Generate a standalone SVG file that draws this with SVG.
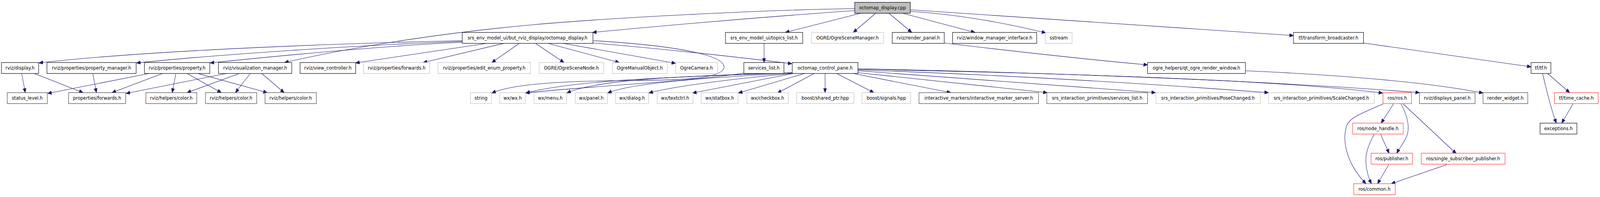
<svg xmlns="http://www.w3.org/2000/svg" width="4431" height="504" viewBox="0 0 4431 504" preserveAspectRatio="none">
<style>
svg:root{width:100vw;height:504px}
text{font-family:"DejaVu Sans","Liberation Sans",sans-serif;font-size:12.4px;text-anchor:middle;fill:#000}
rect{fill:#fff;stroke-width:1.2}
.k rect{stroke:#000}
.d rect{stroke:#404040}
.g rect{stroke:#bfbfbf}
.r rect{stroke:#ff3030}
#root rect{fill:#bfbfbf}
#edges path{fill:none;stroke:#191970;stroke-width:1.1;marker-end:url(#ah)}
</style>
<defs>
<marker id="ah" markerUnits="userSpaceOnUse" markerWidth="12" markerHeight="10" refX="11" refY="4.5" orient="auto">
<path d="M0,0 L11,4.5 L0,9 z" fill="#191970" stroke="#191970"/>
</marker>
</defs>
<rect x="0" y="0" width="4431" height="504" style="fill:#fff;stroke:none"/>
<g id="edges">
<path d="M2367,27 C2200,38 1900,60 1641,83"/>
<path d="M2367,22 C2100,26 1700,45 1480,63 S1000,115 788,160"/>
<path d="M2383,34 L2175,83"/>
<path d="M2425,34 L2363,83"/>
<path d="M2462,34 L2525,83"/>
<path d="M2500,34 L2700,83"/>
<path d="M2521,29 Q2700,40 2896,84"/>
<path d="M2521,25 L3582,91"/>
<path d="M1280,104 C900,112 400,130 108,161"/>
<path d="M1280,106 C1000,115 600,140 378,161"/>
<path d="M1280,108 C1050,118 750,145 582,161"/>
<path d="M1348,111 L985,161"/>
<path d="M1395,111 L1172,160"/>
<path d="M1438,111 L1362,160"/>
<path d="M1483,111 L1562,160"/>
<path d="M1518,111 L1715,160"/>
<path d="M1560,111 L1871,162"/>
<path d="M1642,110 Q1900,130 2193,163"/>
<path d="M1642,104 C1900,118 2010,145 2005,173 C2000,200 1900,205 1750,206 C1550,207 1420,215 1362,238"/>
<path d="M2116,111 L2116,160"/>
<path d="M2060,187 C1900,210 1600,222 1456,238"/>
<path d="M2194,186 C1900,196 1600,203 1456,238"/>
<path d="M2194,186 C1900,194 1650,203 1570,238"/>
<path d="M2194,187 C1950,199 1750,212 1683,238"/>
<path d="M2194,188 C2000,204 1850,224 1797,238"/>
<path d="M2197,188 L1918,238"/>
<path d="M2228,188 L2045,238"/>
<path d="M2255,188 L2153,238"/>
<path d="M2285,188 L2285,237"/>
<path d="M2317,188 L2420,237"/>
<path d="M2363,188 L2633,237"/>
<path d="M2376,186 L2900,237"/>
<path d="M2376,181 L3200,237"/>
<path d="M2376,179 Q2900,195 3513,237"/>
<path d="M2376,177 C2800,185 3500,200 3829,238"/>
<path d="M2376,176 C2800,183 3500,205 3931,237"/>
<path d="M2615,110 Q2950,147 3178,166"/>
<path d="M3449,181 Q3900,200 4107,238"/>
<path d="M3776,110 L4240,171"/>
<path d="M4272,188 C4285,240 4300,290 4310,315"/>
<path d="M4286,188 L4347,237"/>
<path d="M4356,266 L4325,315"/>
<path d="M60,188 L70,237"/>
<path d="M95,188 L230,237"/>
<path d="M257,188 L267,237"/>
<path d="M413,188 L132,239"/>
<path d="M450,188 L310,237"/>
<path d="M627,188 L349,239"/>
<path d="M487,188 L477,237"/>
<path d="M518,188 L613,237"/>
<path d="M548,188 L740,237"/>
<path d="M663,188 L518,237"/>
<path d="M693,188 L652,237"/>
<path d="M725,188 L787,237"/>
<path d="M3830,266 C3770,290 3740,300 3730,320 C3715,360 3730,420 3783,470"/>
<path d="M3859,266 L3825,315"/>
<path d="M3880,266 C3900,300 3905,330 3895,350 C3885,370 3875,380 3868,392"/>
<path d="M3886,266 L4033,393"/>
<path d="M3806,343 C3790,370 3780,395 3783,420 C3785,440 3790,455 3798,470"/>
<path d="M3823,343 L3847,392"/>
<path d="M3846,421 L3815,470"/>
<path d="M4007,421 L3853,470"/>
</g>
<g id="root" class="k"><rect x="2367" y="6" width="154" height="28"/><text x="2444" y="24">octomap_display.cpp</text></g>
<g id="n_octomap_display_h" class="k"><rect x="1280" y="83" width="362" height="28"/><text x="1461" y="101">srs_env_model_ui/but_rviz_display/octomap_display.h</text></g>
<g id="n_topics_list" class="k"><rect x="2009" y="83" width="214" height="28"/><text x="2116" y="101">srs_env_model_ui/topics_list.h</text></g>
<g id="n_ogre_scene_manager" class="g"><rect x="2247" y="83" width="200" height="28"/><text x="2347" y="101">OGRE/OgreSceneManager.h</text></g>
<g id="n_render_panel" class="k"><rect x="2471" y="83" width="144" height="28"/><text x="2543" y="101">rviz/render_panel.h</text></g>
<g id="n_wmi" class="k"><rect x="2638" y="83" width="233" height="28"/><text x="2754.5" y="101">rviz/window_manager_interface.h</text></g>
<g id="n_sstream" class="g"><rect x="2895" y="83" width="74" height="28"/><text x="2932" y="101">sstream</text></g>
<g id="n_tfb" class="k"><rect x="3582" y="83" width="194" height="28"/><text x="3679" y="101">tf/transform_broadcaster.h</text></g>
<g id="n_display" class="k"><rect x="4" y="160" width="103" height="28"/><text x="55.5" y="178">rviz/display.h</text></g>
<g id="n_propmgr" class="k"><rect x="130" y="160" width="247" height="28"/><text x="253.5" y="178">rviz/properties/property_manager.h</text></g>
<g id="n_property" class="k"><rect x="400" y="160" width="181" height="28"/><text x="490.5" y="178">rviz/properties/property.h</text></g>
<g id="n_vizmgr" class="k"><rect x="605" y="160" width="203" height="28"/><text x="706.5" y="178">rviz/visualization_manager.h</text></g>
<g id="n_viewctl" class="k"><rect x="831" y="160" width="154" height="28"/><text x="908" y="178">rviz/view_controller.h</text></g>
<g id="n_fwd_gray" class="g"><rect x="1007" y="160" width="183" height="28"/><text x="1098.5" y="178">rviz/properties/forwards.h</text></g>
<g id="n_editenum" class="g"><rect x="1213" y="160" width="256" height="28"/><text x="1341" y="178">rviz/properties/edit_enum_property.h</text></g>
<g id="n_scenenode" class="g"><rect x="1493" y="160" width="179" height="28"/><text x="1582.5" y="178">OGRE/OgreSceneNode.h</text></g>
<g id="n_manualobj" class="g"><rect x="1696" y="160" width="152" height="28"/><text x="1772" y="178">OgreManualObject.h</text></g>
<g id="n_camera" class="g"><rect x="1871" y="160" width="116" height="28"/><text x="1929" y="178">OgreCamera.h</text></g>
<g id="n_services" class="k"><rect x="2060" y="160" width="111" height="28"/><text x="2115.5" y="178">services_list.h</text></g>
<g id="n_pane" class="k"><rect x="2194" y="160" width="182" height="28"/><text x="2285" y="178">octomap_control_pane.h</text></g>
<g id="n_qtogre" class="k"><rect x="3178" y="160" width="271" height="28"/><text x="3313.5" y="178">ogre_helpers/qt_ogre_render_window.h</text></g>
<g id="n_tf" class="k"><rect x="4240" y="160" width="55" height="28"/><text x="4267.5" y="178">tf/tf.h</text></g>
<g id="n_status" class="d"><rect x="20" y="237" width="111" height="28"/><text x="75.5" y="255">status_level.h</text></g>
<g id="n_pfwd" class="d"><rect x="190" y="237" width="158" height="28"/><text x="269" y="255">properties/forwards.h</text></g>
<g id="n_color1" class="d"><rect x="404" y="237" width="141" height="28"/><text x="474.5" y="255">rviz/helpers/color.h</text></g>
<g id="n_color2" class="d"><rect x="569" y="237" width="142" height="28"/><text x="640" y="255">rviz/helpers/color.h</text></g>
<g id="n_color3" class="d"><rect x="734" y="237" width="142" height="28"/><text x="805" y="255">rviz/helpers/color.h</text></g>
<g id="n_string" class="g"><rect x="1303" y="237" width="58" height="28"/><text x="1332" y="255">string</text></g>
<g id="n_wxwx" class="g"><rect x="1384" y="237" width="71" height="28"/><text x="1419.5" y="255">wx/wx.h</text></g>
<g id="n_wxmenu" class="g"><rect x="1479" y="237" width="90" height="28"/><text x="1524" y="255">wx/menu.h</text></g>
<g id="n_wxpanel" class="g"><rect x="1593" y="237" width="89" height="28"/><text x="1637.5" y="255">wx/panel.h</text></g>
<g id="n_wxdialog" class="g"><rect x="1705" y="237" width="91" height="28"/><text x="1750.5" y="255">wx/dialog.h</text></g>
<g id="n_wxtextctrl" class="g"><rect x="1820" y="237" width="99" height="28"/><text x="1869.5" y="255">wx/textctrl.h</text></g>
<g id="n_wxstatbox" class="g"><rect x="1942" y="237" width="102" height="28"/><text x="1993" y="255">wx/statbox.h</text></g>
<g id="n_wxcheckbox" class="g"><rect x="2068" y="237" width="115" height="28"/><text x="2125.5" y="255">wx/checkbox.h</text></g>
<g id="n_sharedptr" class="g"><rect x="2206" y="237" width="159" height="28"/><text x="2285.5" y="255">boost/shared_ptr.hpp</text></g>
<g id="n_signals" class="g"><rect x="2387" y="237" width="135" height="28"/><text x="2454.5" y="255">boost/signals.hpp</text></g>
<g id="n_ims" class="d"><rect x="2545" y="237" width="331" height="28"/><text x="2710.5" y="255">interactive_markers/interactive_marker_server.h</text></g>
<g id="n_srssl" class="d"><rect x="2899" y="237" width="279" height="28"/><text x="3038.5" y="255">srs_interaction_primitives/services_list.h</text></g>
<g id="n_pose" class="g"><rect x="3201" y="237" width="289" height="28"/><text x="3345.5" y="255">srs_interaction_primitives/PoseChanged.h</text></g>
<g id="n_scale" class="g"><rect x="3513" y="237" width="293" height="28"/><text x="3659.5" y="255">srs_interaction_primitives/ScaleChanged.h</text></g>
<g id="n_ros" class="r"><rect x="3830" y="237" width="79" height="28"/><text x="3869.5" y="255">ros/ros.h</text></g>
<g id="n_dpanel" class="d"><rect x="3931" y="237" width="154" height="28"/><text x="4008" y="255">rviz/displays_panel.h</text></g>
<g id="n_rwidget" class="d"><rect x="4107" y="237" width="124" height="28"/><text x="4169" y="255">render_widget.h</text></g>
<g id="n_timecache" class="r"><rect x="4305" y="237" width="121" height="28"/><text x="4365.5" y="255">tf/time_cache.h</text></g>
<g id="n_nodehandle" class="r"><rect x="3746" y="315" width="140" height="28"/><text x="3816" y="333">ros/node_handle.h</text></g>
<g id="n_exceptions" class="k"><rect x="4265" y="315" width="102" height="28"/><text x="4316" y="333">exceptions.h</text></g>
<g id="n_publisher" class="r"><rect x="3797" y="392" width="115" height="28"/><text x="3854.5" y="410">ros/publisher.h</text></g>
<g id="n_ssp" class="r"><rect x="3936" y="392" width="232" height="28"/><text x="4052" y="410">ros/single_subscriber_publisher.h</text></g>
<g id="n_common" class="r"><rect x="3749" y="470" width="115" height="28"/><text x="3806.5" y="488">ros/common.h</text></g>
</svg>
